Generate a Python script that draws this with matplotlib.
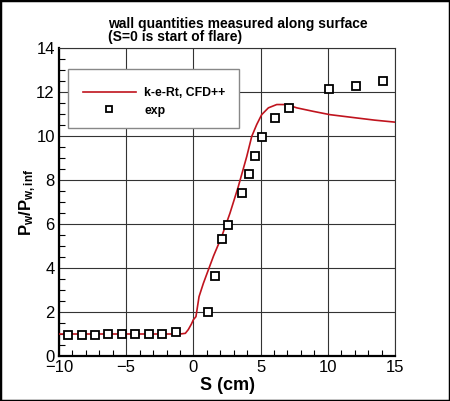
import matplotlib
matplotlib.use("Agg")
import matplotlib.pyplot as plt
from matplotlib.patches import Rectangle
from matplotlib.ticker import MultipleLocator

plt.rcParams['font.family'] = ['Liberation Sans', 'DejaVu Sans']
plt.rcParams['mathtext.fontset'] = 'custom'
plt.rcParams['mathtext.rm'] = 'Liberation Sans'
plt.rcParams['mathtext.bf'] = 'Liberation Sans:bold'
plt.rcParams['mathtext.it'] = 'Liberation Sans:italic'

# CFD curve (k-e-Rt, CFD++)
cfd_s = [-10.0, -8.0, -6.0, -4.0, -2.0, -1.0, -0.6, -0.38, -0.15, 0.0, 0.19,
         0.42, 0.74, 1.11, 1.5, 2.1, 2.72, 3.34, 3.97, 4.34, 4.71, 5.08, 5.58,
         6.2, 6.94, 7.69, 8.92, 10.16, 12.15, 13.5, 15.0]
cfd_p = [1.0, 1.0, 1.0, 1.0, 1.0, 1.0, 1.03, 1.2, 1.45, 1.65, 1.79,
         2.7, 3.3, 3.91, 4.55, 5.42, 6.49, 7.70, 9.07, 9.98, 10.52, 10.97, 11.28,
         11.43, 11.43, 11.28, 11.12, 10.97, 10.82, 10.72, 10.63]

# Experimental data
exp_s = [-9.31, -8.31, -7.32, -6.38, -5.34, -4.35, -3.30, -2.31, -1.32,
         1.11, 1.61, 2.10, 2.60, 3.62, 4.11, 4.61, 5.13, 6.10, 7.11,
         10.11, 12.12, 14.13]
exp_p = [0.95, 0.95, 0.95, 0.98, 1.01, 0.98, 1.0, 0.98, 1.07,
         2.01, 3.65, 5.30, 5.94, 7.40, 8.26, 9.08, 9.94, 10.80, 11.29,
         12.14, 12.26, 12.50]

fig = plt.figure(figsize=(4.5, 4.01), dpi=100)
ax = fig.add_axes([59/450, 45/401, 336/450, 308/401])

ax.plot(cfd_s, cfd_p, color='#c0141e', lw=1.2, label='k-e-Rt, CFD++', zorder=3)
ax.plot(exp_s, exp_p, ls='none', marker='s', ms=6, mfc='white', mec='black',
        mew=1.3, label='exp', zorder=4)

ax.set_xlim(-10, 15)
ax.set_ylim(0, 14)
ax.xaxis.set_major_locator(MultipleLocator(5))
ax.xaxis.set_minor_locator(MultipleLocator(1))
ax.yaxis.set_major_locator(MultipleLocator(2))
ax.yaxis.set_minor_locator(MultipleLocator(0.5))
ax.tick_params(which='both', direction='in', top=False, right=False,
               labelsize=12, colors='black')
ax.tick_params(which='major', length=0, pad=3)
ax.tick_params(which='minor', length=4, width=0.8)
ax.grid(True, which='major', color='#333333', lw=0.8)
ax.set_axisbelow(True)
for side in ['left', 'bottom']:
    ax.spines[side].set_linewidth(1.6)
    ax.spines[side].set_color('black')
for side in ['top', 'right']:
    ax.spines[side].set_linewidth(0.8)
    ax.spines[side].set_color('#333333')

ax.set_xlabel('S (cm)', fontsize=13, fontweight='bold', labelpad=1)
ax.set_ylabel(r'$\mathbf{P_w/P_{w,inf}}$', fontsize=12, labelpad=-1.5)

fig.text(108/450, 1 - 17/401, 'wall quantities measured along surface\n(S=0 is start of flare)',
         ha='left', va='top', fontsize=10, fontweight='bold', linespacing=0.95)

# legend box
ax.add_patch(Rectangle((9/336, (356-128)/308), (239-68)/336, 59/308,
                       transform=ax.transAxes, facecolor='white',
                       edgecolor='#888888', lw=1.0, zorder=5))
leg = ax.legend(loc='upper left', bbox_to_anchor=((83-59)/336, (356-87.5)/308),
                frameon=False, prop={'weight': 'bold', 'size': 8.8},
                handlelength=4.3, handletextpad=0.72, labelspacing=0.42,
                borderpad=0, borderaxespad=0, markerscale=0.75)
leg.set_zorder(6)

fig.add_artist(Rectangle((0, 0), 1, 1, transform=fig.transFigure, fill=False,
                         edgecolor='black', lw=2.5))

fig.savefig('out.png', dpi=100)
